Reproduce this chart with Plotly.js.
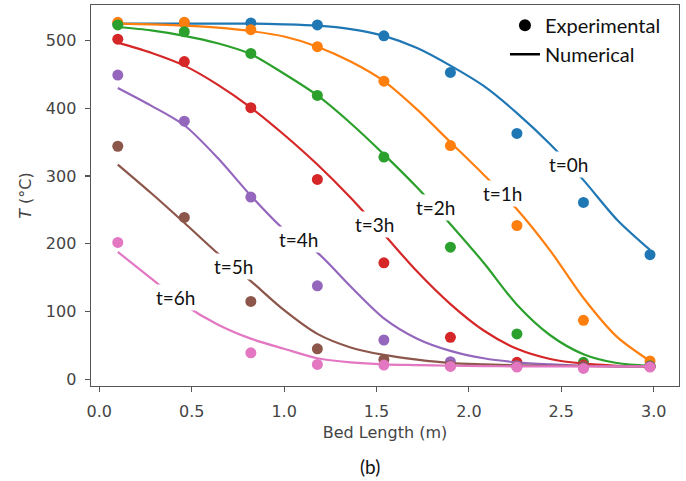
<!DOCTYPE html>
<html>
<head>
<meta charset="utf-8">
<script src="https://cdn.plot.ly/plotly-3.0.1.min.js"></script>
<style>html,body{margin:0;padding:0;background:#fff;}#chart{width:686px;height:481px;}</style>
</head>
<body>
<div id="chart"></div>
<script>
// Experimental measurement positions (m)
const xExp = [0.1, 0.46, 0.82, 1.18, 1.54, 1.9, 2.26, 2.62, 2.98];
// Experimental temperatures (°C)
const exp0h = [525, 526, 526, 523, 507, 453, 363, 261, 184];
const exp1h = [527, 527, 516, 491, 440, 345, 227, 87, 27];
const exp2h = [523, 513, 481, 419, 328, 195, 67, 25, 20];
const exp3h = [502, 469, 401, 295, 172, 62, 25, 21, 19];
const exp4h = [449, 381, 269, 138, 58, 26, 20, 19, 19];
const exp5h = [344, 239, 115, 45, 29, 20, 19, 19, 19];
const exp6h = [202, null, 39, 22, 21, 19, 18, 16, 18];

// Numerical curves
const xNum = [0.1, 0.28, 0.46, 0.64, 0.82, 1.0, 1.18, 1.36, 1.54, 1.72, 1.9, 2.08, 2.26, 2.44, 2.62, 2.8, 2.98];
const num0h = [525, 525, 525, 525, 525, 524, 522, 517, 507, 489, 463, 433, 393, 347, 294, 236, 191];
const num1h = [525, 524, 522, 519, 514, 506, 491, 469, 440, 398, 350, 302, 251, 190, 120, 63, 27];
const num2h = [520, 515, 507, 496, 480, 451, 419, 378, 332, 283, 229, 172, 110, 65, 37, 24, 20];
const num3h = [497, 482, 463, 435, 401, 361, 317, 268, 214, 159, 111, 72, 45, 30, 23, 20, 19];
const num4h = [430, 404, 375, 327, 271, 221, 187, 137, 90, 60, 42, 31, 25, 22, 20, 19, 19];
const num5h = [317, 275, 231, 186, 145, 102, 67, 47, 36, 29, 24, 22, 20.5, 20, 19.5, 19, 19];
const num6h = [188, 149, 110, 81, 60, 45, 31, 25, 22, 21, 20, 19.5, 19, 19, 19, 19, 19];

const seriesNames = ['t=0h', 't=1h', 't=2h', 't=3h', 't=4h', 't=5h', 't=6h'];
const labelX = [2.54, 2.18, 1.82, 1.49, 1.08, 0.725, 0.41];

const expAll = [exp0h, exp1h, exp2h, exp3h, exp4h, exp5h, exp6h];
const numAll = [num0h, num1h, num2h, num3h, num4h, num5h, num6h];
const colors = ['#1f77b4', '#ff7f0e', '#2ca02c', '#d62728', '#9467bd', '#8c564b', '#e377c2'];

function interp(xs, ys, x) {
  for (let i = 0; i < xs.length - 1; i++) {
    if (x >= xs[i] && x <= xs[i + 1]) {
      const f = (x - xs[i]) / (xs[i + 1] - xs[i]);
      return ys[i] + f * (ys[i + 1] - ys[i]);
    }
  }
  return ys[ys.length - 1];
}

const traces = [];
for (let k = 0; k < 7; k++) {
  traces.push({
    x: xExp, y: expAll[k], type: 'scatter', mode: 'markers', showlegend: false,
    marker: {color: colors[k], size: 11}, hoverinfo: 'skip'
  });
  traces.push({
    x: xNum, y: numAll[k], type: 'scatter', mode: 'lines', showlegend: false,
    line: {color: colors[k], width: 2.2, shape: 'spline', smoothing: 0.8}, hoverinfo: 'skip'
  });
}
// legend entries
traces.push({x: [null], y: [null], type: 'scatter', mode: 'markers', name: 'Experimental',
  marker: {color: '#000', size: 12}});
traces.push({x: [null], y: [null], type: 'scatter', mode: 'lines', name: 'Numerical',
  line: {color: '#000', width: 2.6}});

const annotations = seriesNames.map((s, k) => ({
  x: labelX[k], y: interp(xNum, numAll[k], labelX[k]), xref: 'x', yref: 'y',
  text: s, showarrow: false, bgcolor: '#ffffff', borderpad: 1,
  font: {family: 'Lato, sans-serif', size: 19, color: '#111'}
}));
annotations.push({
  x: 0.475, y: -0.21, xref: 'paper', yref: 'paper', xanchor: 'center', yanchor: 'middle',
  text: '(b)', showarrow: false, font: {family: 'Lato, sans-serif', size: 19, color: '#111'}
});

const axisCommon = {
  showgrid: false, zeroline: false, showline: true, mirror: true,
  linecolor: '#555', linewidth: 1.4, ticks: 'outside', ticklen: 5, tickwidth: 1.2,
  tickcolor: '#555', ticklabelstandoff: 5,
  tickfont: {family: 'DejaVu Sans, sans-serif', size: 16, color: '#444'}
};

const layout = {
  width: 686, height: 481,
  margin: {l: 91, r: 7, t: 5, b: 95},
  paper_bgcolor: '#fff', plot_bgcolor: '#fff',
  showlegend: true,
  legend: {x: 0.704, y: 0.998, xanchor: 'left', yanchor: 'top', bgcolor: 'rgba(0,0,0,0)',
    font: {family: 'Lato, sans-serif', size: 20, color: '#111'}, tracegroupgap: 0, itemwidth: 30},
  xaxis: Object.assign({}, axisCommon, {
    range: [-0.045, 3.137], tickvals: [0, 0.5, 1.0, 1.5, 2.0, 2.5, 3.0],
    ticktext: ['0.0', '0.5', '1.0', '1.5', '2.0', '2.5', '3.0'],
    title: {text: 'Bed Length (m)', standoff: 7, font: {family: 'DejaVu Sans, sans-serif', size: 16, color: '#444'}}
  }),
  yaxis: Object.assign({}, axisCommon, {
    range: [-9.9, 552.5], tickvals: [0, 100, 200, 300, 400, 500],
    title: {text: '<i>T</i> (°C)', standoff: 10, font: {family: 'DejaVu Sans, sans-serif', size: 16, color: '#444'}}
  }),
  annotations: annotations
};

Plotly.newPlot('chart', traces, layout, {staticPlot: true, displayModeBar: false});
</script>
</body>
</html>
